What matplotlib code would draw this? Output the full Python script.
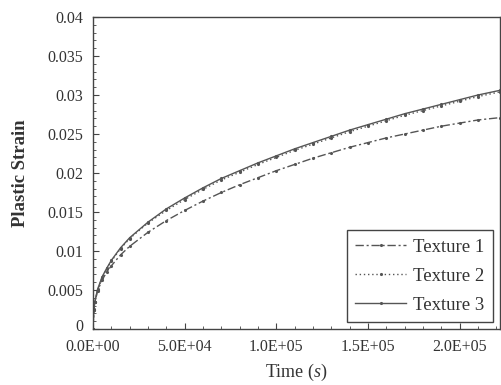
import matplotlib.pyplot as plt
from matplotlib.ticker import MultipleLocator, FixedLocator
from matplotlib.transforms import ScaledTranslation

plt.rcParams['font.family'] = ['Liberation Serif', 'DejaVu Serif']
plt.rcParams['mathtext.fontset'] = 'custom'
plt.rcParams['mathtext.it'] = 'Liberation Serif:italic'
plt.rcParams['mathtext.rm'] = 'Liberation Serif'

# time in seconds
time_s = [0, 500, 1000, 2500, 5000, 7500, 10000, 15000, 20000, 30000, 40000,
          50000, 60000, 70000, 80000, 90000, 100000, 110000, 120000, 130000,
          140000, 150000, 160000, 170000, 180000, 190000, 200000, 210000, 222000]

texture1 = [0, 0.0025, 0.0034, 0.0049, 0.0063, 0.0073, 0.0081, 0.0095, 0.0106,
            0.0124, 0.0139, 0.0152, 0.0164, 0.0175, 0.0185, 0.0194, 0.0203,
            0.0211, 0.0219, 0.0226, 0.0233, 0.0239, 0.0245, 0.0250, 0.0255,
            0.0260, 0.0264, 0.0268, 0.0271]
texture2 = [0, 0.0025, 0.0034, 0.0050, 0.0066, 0.0077, 0.0087, 0.0103, 0.0116,
            0.0136, 0.0152, 0.0166, 0.0179, 0.0191, 0.0201, 0.0211, 0.0220,
            0.0229, 0.0237, 0.0245, 0.0253, 0.0260, 0.0267, 0.0274, 0.0280,
            0.0286, 0.0292, 0.0298, 0.0304]
texture3 = [0, 0.0026, 0.0035, 0.0051, 0.0067, 0.0078, 0.0088, 0.0104, 0.0117,
            0.0137, 0.0154, 0.0168, 0.0181, 0.0193, 0.0203, 0.0213, 0.0222,
            0.0231, 0.0239, 0.0247, 0.0255, 0.0262, 0.0269, 0.0276, 0.0282,
            0.0288, 0.0294, 0.0300, 0.0306]

x_ticks = [0, 50000, 100000, 150000, 200000]
x_labels = ['0.0E+00', '5.0E+04', '1.0E+05', '1.5E+05', '2.0E+05']
y_ticks = [0, 0.005, 0.01, 0.015, 0.02, 0.025, 0.03, 0.035, 0.04]
y_labels = ['0', '0.005', '0.01', '0.015', '0.02', '0.025', '0.03', '0.035', '0.04']

fig = plt.figure(figsize=(5.01, 3.85), dpi=100)
ax = fig.add_axes([93 / 501, 1 - 329 / 385, 407 / 501, 312 / 385])

col = '#555555'
ax.plot(time_s, texture1, color=col, lw=1.0, ls=(0, (6, 2, 1.5, 2)),
        marker='.', ms=2.5, label='Texture 1')
ax.plot(time_s, texture2, color=col, lw=1.0, ls=(0, (1, 2)),
        marker='.', ms=2.5, label='Texture 2')
ax.plot(time_s, texture3, color=col, lw=1.0, ls='-',
        marker='.', ms=2.5, label='Texture 3')

ax.set_xlim(0, 222000)
ax.set_ylim(0, 0.04)
ax.xaxis.set_major_locator(FixedLocator(x_ticks))
ax.set_xticklabels(x_labels)
ax.xaxis.set_minor_locator(MultipleLocator(10000))
ax.yaxis.set_major_locator(FixedLocator(y_ticks))
ax.set_yticklabels(y_labels)
ax.yaxis.set_minor_locator(MultipleLocator(0.001))

ax.tick_params(which='both', direction='in', colors='#444444', labelcolor='#333333',
               labelsize=11.5)
ax.tick_params(axis='y', which='major', length=4, pad=7)
ax.tick_params(axis='y', which='minor', length=2.5)
ax.tick_params(axis='x', which='major', length=4, pad=7)
ax.tick_params(axis='x', which='minor', length=2.5)
for s in ax.spines.values():
    s.set_color('#444444')
    s.set_linewidth(1.0)

# nudge the "0" on the y axis up so it clears the first x label
zero_lbl = ax.get_yticklabels()[0]
zero_lbl.set_transform(zero_lbl.get_transform() +
                       ScaledTranslation(0, 3 / 72, fig.dpi_scale_trans))

ax.set_ylabel('Plastic Strain', fontsize=13.5, fontweight='bold', color='#333333',
              labelpad=13)
ax.set_xlabel('Time ($s$)', fontsize=13, color='#333333', labelpad=5)

leg = ax.legend(loc='lower right', bbox_to_anchor=(0.983, 0.022), borderaxespad=0,
                fontsize=13.5, handlelength=2.7, labelspacing=0.63,
                fancybox=False, framealpha=1, edgecolor='#444444',
                borderpad=0.45, handletextpad=0.4)
leg.get_frame().set_linewidth(1.0)
for t in leg.get_texts():
    t.set_color('#333333')

fig.savefig('out.png', dpi=100)
